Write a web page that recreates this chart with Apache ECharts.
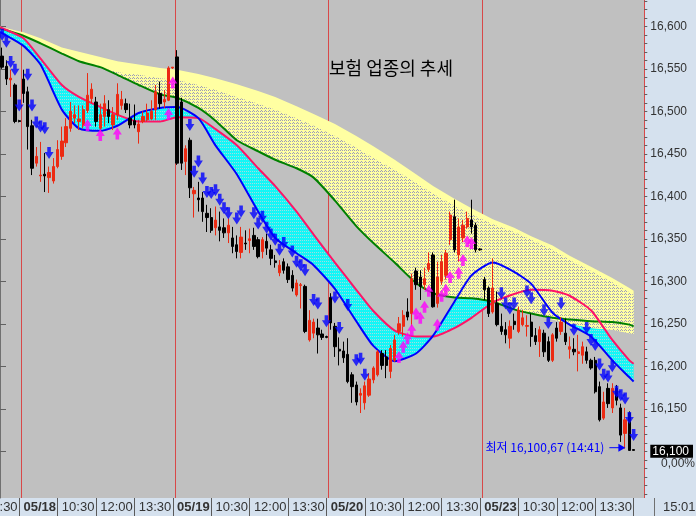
<!DOCTYPE html>
<html><head><meta charset="utf-8">
<script src="https://cdn.jsdelivr.net/npm/echarts@6/dist/echarts.min.js"></script>
<style>html,body{margin:0;padding:0;background:#d5e1ee;overflow:hidden}#c{width:696px;height:516px}</style>
</head><body><div id="c"></div>
<script>
// ---------- categories / tick labels ----------
const dayLabels = ['05/17', '05/18', '05/19', '05/20', '05/23'];
const firstDayTimes = ['14:10','14:20','14:30','14:40','14:50'];
const tailTimes = ['15:00','15:10'];
const labelTimes = ['09:00','10:30','12:00','13:30'];
const hiddenLabel = '13:30';   // 05/17 13:30 label, four bars left of the first candle
const hiddenLabelBars = -4;
const yMajor = [16100,16150,16200,16250,16300,16350,16400,16450,16500,16550,16600];
const TITLE = '보험 업종의 추세';
const lowBar = 147, lowValue = 16100.67, lowTime = '14:41';

// ---------- candles [open, close, low, high], first = 05/17 14:10 ----------
const ohlc = [
[16565,16552,16550,16575],[16553,16538,16531,16560],[16537,16539,16517,16549],[16531,16488,16486,16533],[16489,16488,16487,16490],
[16538,16521,16510,16549],[16523,16482,16455,16529],[16483,16433,16425,16490],[16439,16447,16435,16458],[16424,16425,16417,16464],
[16426,16424,16405,16451],[16422,16428,16404,16435],[16418,16435,16415,16445],[16435,16455,16433,16466],[16447,16465,16443,16482],
[16463,16482,16458,16492],[16480,16500,16476,16511],[16492,16496,16486,16507],[16488,16491,16478,16507],[16483,16502,16480,16507],
[16501,16519,16498,16545],[16515,16526,16509,16533],[16511,16488,16482,16517],[16480,16496,16476,16509],[16494,16509,16482,16519],
[16502,16494,16486,16513],[16484,16496,16478,16505],[16496,16520,16490,16533],[16507,16514,16502,16524],[16509,16502,16498,16515],
[16492,16484,16480,16509],[16489,16484,16480,16508],[16476,16485,16462,16490],[16488,16494,16486,16500],[16490,16498,16488,16509],
[16491,16500,16490,16513],[16502,16523,16490,16531],[16521,16509,16503,16535],[16511,16514,16504,16525],[16513,16551,16512,16553],
[16551,16552,16550,16552],
[16564,16439,16437,16572],[16511,16439,16431,16516],[16441,16456,16425,16460],[16466,16410,16398,16469],[16403,16407,16375,16411],
[16398,16396,16382,16417],[16398,16382,16370,16405],[16380,16375,16358,16390],[16375,16360,16357,16386],[16363,16372,16354,16388],
[16364,16360,16347,16382],[16363,16357,16351,16374],[16357,16366,16345,16374],[16351,16341,16333,16364],[16343,16335,16327,16354],
[16334,16352,16327,16364],[16345,16344,16337,16360],[16348,16350,16333,16362],[16354,16341,16337,16363],[16349,16329,16327,16352],
[16335,16349,16327,16352],[16347,16339,16331,16356],[16337,16327,16319,16343],[16324,16322,16316,16331],[16310,16319,16306,16325],
[16323,16313,16309,16327],[16317,16302,16298,16321],[16307,16292,16288,16313],[16284,16298,16282,16302],[16295,16296,16268,16298],
[16294,16241,16239,16296],[16231,16254,16229,16266],[16239,16252,16233,16256],[16245,16237,16215,16256],[16238,16234,16231,16243],
[16235,16234,16233,16236],
[16281,16251,16243,16286],[16247,16223,16211,16251],[16220,16218,16201,16234],[16218,16210,16204,16229],[16214,16182,16180,16233],
[16190,16176,16157,16193],[16178,16158,16154,16182],[16166,16168,16145,16174],[16157,16177,16149,16182],[16166,16185,16164,16192],
[16184,16198,16180,16200],[16190,16217,16188,16219],[16215,16201,16196,16219],[16211,16201,16186,16219],[16194,16221,16186,16225],
[16207,16231,16205,16237],[16241,16250,16237,16258],[16247,16260,16235,16266],[16264,16258,16254,16280],[16262,16303,16247,16309],
[16312,16296,16290,16316],[16305,16294,16278,16313],[16296,16303,16290,16316],[16314,16321,16311,16334],[16331,16270,16269,16334],
[16274,16305,16269,16323],[16300,16323,16296,16331],[16307,16333,16302,16337],[16349,16378,16343,16382],[16376,16337,16334,16396],
[16331,16364,16323,16374],[16351,16366,16346,16372],[16364,16374,16362,16382],[16372,16364,16356,16396],[16366,16337,16334,16369],
[16338,16337,16336,16339],
[16302,16290,16278,16305],[16292,16262,16258,16294],[16264,16292,16262,16327],[16274,16249,16247,16288],[16247,16241,16237,16262],
[16243,16237,16227,16252],[16233,16247,16221,16254],[16253,16249,16243,16262],[16241,16266,16239,16270],[16249,16257,16247,16266],
[16247,16248,16235,16260],[16252,16235,16223,16262],[16236,16229,16225,16245],[16229,16243,16211,16247],[16239,16217,16211,16243],
[16229,16207,16205,16235],[16207,16237,16205,16239],[16245,16233,16229,16252],[16241,16252,16237,16258],[16239,16229,16225,16256],
[16220,16223,16209,16235],[16220,16217,16213,16233],[16215,16217,16194,16237],[16213,16223,16203,16229],[16217,16207,16203,16223],
[16207,16198,16196,16209],[16207,16170,16168,16211],[16176,16137,16135,16182],[16139,16158,16137,16170],[16174,16156,16151,16180],
[16151,16174,16145,16180],[16174,16160,16154,16178],[16151,16119,16111,16156],[16121,16137,16103,16151],[16145,16101,16100.67,16147],
[16102,16101,16101,16102]
];

// ---------- moving-average ribbons (sampled at candle positions) ----------
const maIdx = [-0.5,0,5,9,14,18,23,27,32,37,41,46,50,55,60,64,69,73,78,83,87,92,97,101,106,110,115,120,124,129,133,138,143,147,148];
const blueMA = [16593,16592,16577,16555,16502,16480,16477,16483,16498,16504,16505,16492,16460,16426,16382,16351,16333,16319,16291,16253,16224,16206,16215,16236,16276,16307,16322,16311,16297,16263,16249,16235,16207,16187,16182];
const pinkMA = [16599,16598,16586,16562,16531,16517,16505,16496,16488,16488,16493,16492,16479,16460,16433,16412,16382,16355,16322,16290,16265,16242,16235,16235,16245,16257,16275,16285,16290,16289,16283,16266,16231,16207,16203];
const greenMA = [16598,16597,16589,16580,16568,16559,16552,16543,16531,16520,16516,16504,16489,16466,16453,16443,16433,16422,16395,16365,16345,16322,16298,16286,16281,16280,16276,16267,16262,16257,16255,16253,16252,16249,16247];
const ribbonTop = [16600,16599,16593,16586,16575,16570,16564,16559,16555,16551,16549,16544,16539,16532,16524,16517,16506,16497,16485,16471,16459,16443,16426,16412,16397,16386,16373,16363,16353,16342,16330,16317,16304,16292,16289];
const ribbonInner = [16598,16597,16589,16580,16568,16559,16552,16546,16543,16539,16537,16531,16525,16517,16509,16502,16492,16483,16471,16457,16445,16431,16416,16403,16389,16379,16367,16358,16349,16337,16325,16312,16299,16287,16284];
const ribbonBottom = [16598,16597,16589,16580,16568,16559,16552,16543,16531,16520,16516,16504,16489,16466,16453,16443,16433,16422,16395,16365,16345,16322,16298,16286,16281,16280,16276,16267,16262,16255,16250,16245,16243,16239,16238];

// ---------- signals ----------
const sellIdx = [0,1,2,3,4,6,7,8,9,10,11, 44,45,46,47,48,49,50,51,52,53,55,56,59,60,61,62,63,64,65,66,68,69,70,71,73,74,76, 78,79,81,83,84,85, 117,118,119,120,123,124,127,128,131,134,137,138,139,140,141,142,143,144,145,146,147,148];
const sellVal = [16590,16582,16558,16549,16507,16543,16507,16487,16482,16480,16451, 16484,16429,16441,16421,16405,16404,16407,16396,16386,16380,16374,16382,16380,16368,16376,16363,16355,16349,16337,16345,16335,16323,16319,16313,16278,16274,16253, 16281,16245,16272,16207,16209,16190, 16286,16274,16268,16274,16288,16280,16266,16251,16274,16243,16245,16231,16225,16202,16190,16188,16200,16170,16166,16162,16139,16119];
const buyIdx = [20,23,27,39,40, 93,94,95,96,97,98,99,100,102,103,104,105,107,108,109,110];
const buyVal = [16484,16472,16474,16497,16534, 16211,16223,16233,16243,16262,16257,16270,16289,16249,16283,16290,16305,16310,16325,16347,16345];

// ---------- build ----------
const dayTimes = [];
for (let h = 9; h < 15; h++) for (let m = 0; m < 60; m += 10) dayTimes.push(String(h).padStart(2,'0') + ':' + String(m).padStart(2,'0'));
const categories = [];
firstDayTimes.forEach(t => categories.push(dayLabels[0] + ' ' + t));
for (let d = 1; d < dayLabels.length; d++) dayTimes.forEach(t => categories.push(dayLabels[d] + ' ' + t));
tailTimes.forEach(t => categories.push(dayLabels[dayLabels.length - 1] + ' ' + t));
const NCAT = categories.length;
const lastCat = ohlc.length - 1;

const candleRows = ohlc.map((d, i) => [categories[i]].concat(d));
const timeOf = i => categories[i].split(' ')[1];
const isLabeled = i => i < NCAT && labelTimes.indexOf(timeOf(i)) >= 0;
const isDayStart = i => timeOf(i) === '09:00';
const pos = b => b + 0.5;

const fmt = v => v.toLocaleString('en-US');
const krNum = v => v.toLocaleString('en-US', {minimumFractionDigits: 2}).replace('.', ',');

function makePattern(bg, dot, cells) {
  const c = document.createElement('canvas'); c.width = 4; c.height = 3;
  const g = c.getContext('2d'); g.fillStyle = bg; g.fillRect(0, 0, 4, 3);
  g.fillStyle = dot; cells.forEach(p => g.fillRect(p[0], p[1], 1, 1));
  return {image: c, repeat: 'repeat'};
}
function band(upper, lower, fill, z) {
  return {
    type: 'custom', xAxisIndex: 1, yAxisIndex: 0, z: z, silent: true,
    data: [[pos(0), upper[0]]],
    renderItem: function (params, api) {
      const pts = [];
      for (let i = 0; i < maIdx.length; i++) pts.push(api.coord([pos(maIdx[i]), upper[i]]));
      for (let i = maIdx.length - 1; i >= 0; i--) pts.push(api.coord([pos(maIdx[i]), lower[i]]));
      return {type: 'polygon', shape: {points: pts}, style: {fill: fill}};
    }
  };
}
function maLine(vals, color, z) {
  return {type: 'line', xAxisIndex: 1, yAxisIndex: 0, z: z, silent: true, symbol: 'none', smooth: 0.2,
    data: maIdx.map((x, i) => [pos(x), vals[i]]), lineStyle: {color: color, width: 2}};
}
const downArrow = 'path://M3,0 L7,0 L7,5 L10,5 L5,12 L0,5 L3,5 Z';
const upArrow = 'path://M5,0 L10,7 L7,7 L7,12 L3,12 L3,7 L0,7 Z';

const FONT = 'Liberation Sans';
const chart = echarts.init(document.getElementById('c'), null, {width: 696, height: 516});
chart.setOption({
  animation: false,
  backgroundColor: '#d5e1ee',
  title: {text: TITLE, left: 329, top: 59, padding: 0,
    textStyle: {fontFamily: 'Noto Sans CJK KR', fontSize: 18, fontWeight: 'normal', color: '#000'}},
  grid: {left: 0, right: 42, top: 0, bottom: 18, show: true, backgroundColor: '#c0c0c0', borderWidth: 0},
  dataset: {source: candleRows, sourceHeader: false},
  xAxis: [{
    type: 'category', data: categories, boundaryGap: true,
    axisLine: {show: false},
    axisTick: {show: true, alignWithLabel: true, length: 18,
      interval: i => isLabeled(i + 1) || i === lastCat, lineStyle: {color: '#5a5a5a'}},
    axisLabel: {interval: i => isLabeled(i), align: 'left', margin: 3,
      fontFamily: FONT, fontSize: 13, color: '#333',
      formatter: (v) => { const p = v.split(' '); return p[1] === '09:00' ? '{d|' + p[0] + '}' : p[1]; },
      rich: {d: {fontFamily: FONT, fontSize: 13, fontWeight: 'bold', color: '#333'}}},
    splitLine: {show: true, interval: i => isDayStart(i), lineStyle: {color: '#d84848', width: 1}}
  }, {
    type: 'value', min: 0, max: NCAT, show: false
  }],
  yAxis: [{
    type: 'value', position: 'right', min: 16045, max: 16631, scale: true,
    axisLine: {show: true, lineStyle: {color: '#707070', width: 1}},
    axisTick: {show: true, customValues: yMajor, length: 6, lineStyle: {color: '#606060'}},
    axisLabel: {show: true, customValues: yMajor, margin: 6, fontFamily: FONT, fontSize: 12, color: '#333',
      formatter: v => v === 16100 ? '{hl|' + fmt(v) + '}' : fmt(v),
      rich: {hl: {backgroundColor: '#000', color: '#fff', fontFamily: FONT, fontSize: 12, padding: [1, 4, 0, 2]}}},
    splitLine: {show: false}
  }, {
    type: 'value', position: 'right', min: 16045, max: 16631, scale: true,
    axisLine: {show: false}, axisLabel: {show: false}, splitLine: {show: false},
    axisTick: {show: true, length: 3, lineStyle: {color: '#606060'},
      customValues: (function(){ const a=[]; for (let v = 16050; v <= 16630; v += 10) a.push(v); return a; })()}
  }],
  series: [
    band(blueMA, pinkMA, makePattern('#14f6f6', '#a4dcdc', [[0,0],[2,0]]), 1),
    band(ribbonTop, ribbonBottom, '#ffffa2', 2),
    band(ribbonInner, ribbonBottom, makePattern('#ffffa2', '#9c9cba', [[0,0],[2,0],[1,2]]), 2),
    maLine(greenMA, '#008000', 3),
    maLine(pinkMA, '#ff1466', 3),
    maLine(blueMA, '#0000ff', 3),
    {type: 'candlestick', xAxisIndex: 0, yAxisIndex: 0, datasetIndex: 0, z: 4, silent: true,
      encode: {x: 0, y: [1, 2, 3, 4]}, barWidth: 2.8,
      itemStyle: {color: '#ec2a12', color0: '#000000', borderColor: '#ec2a12', borderColor0: '#000000', borderWidth: 1}},
    {type: 'scatter', xAxisIndex: 1, yAxisIndex: 0, z: 5, silent: true, symbol: downArrow, symbolSize: [9, 12],
      itemStyle: {color: '#0000ff'}, data: sellIdx.map((b, i) => [pos(b), sellVal[i]])},
    {type: 'scatter', xAxisIndex: 1, yAxisIndex: 0, z: 5, silent: true, symbol: upArrow, symbolSize: [9, 12],
      itemStyle: {color: '#ff00ff'}, data: buyIdx.map((b, i) => [pos(b), buyVal[i]])}
  ]
});

const lp = chart.convertToPixel({xAxisIndex: 1, yAxisIndex: 0}, [pos(lowBar), lowValue]);
const yp = chart.convertToPixel({yAxisIndex: 0}, 16100);
const hx = chart.convertToPixel({xAxisIndex: 1}, pos(hiddenLabelBars));
const yAxisX = 696 - 42;
chart.setOption({graphic: [
  {type: 'text', z: 20, x: lp[0] - 25, y: lp[1] - 3,
    style: {text: '최저 ' + krNum(lowValue) + ' (' + lowTime + ')', fill: '#0000ff', font: '12px "Noto Sans CJK KR"', textAlign: 'right', textVerticalAlign: 'middle'}},
  {type: 'line', z: 20, shape: {x1: lp[0] - 20, y1: lp[1] - 3, x2: lp[0] - 10, y2: lp[1] - 3}, style: {stroke: '#0000ff', lineWidth: 1}},
  {type: 'polygon', z: 20, shape: {points: [[lp[0] - 4, lp[1] - 3], [lp[0] - 11, lp[1] - 7], [lp[0] - 11, lp[1] + 1]]}, style: {fill: '#0000ff'}},
  {type: 'text', z: 20, x: hx, y: 498 + 3,
    style: {text: hiddenLabel, fill: '#333', font: '13px "Liberation Sans"', textVerticalAlign: 'top'}},
  {type: 'text', z: 20, x: yAxisX + 7, y: yp + 12,
    style: {text: '0,00%', fill: '#333', font: '12px "Liberation Sans"', textVerticalAlign: 'middle'}},
  {type: 'text', z: 20, x: yAxisX + 9, y: 507,
    style: {text: '15:01:00', fill: '#333', font: '13px "Liberation Sans"', textVerticalAlign: 'middle'}},
  {type: 'line', z: 20, shape: {x1: yAxisX + 0.5, y1: 498, x2: yAxisX + 0.5, y2: 516}, style: {stroke: '#707070', lineWidth: 1}}
]});
</script>
</body></html>
